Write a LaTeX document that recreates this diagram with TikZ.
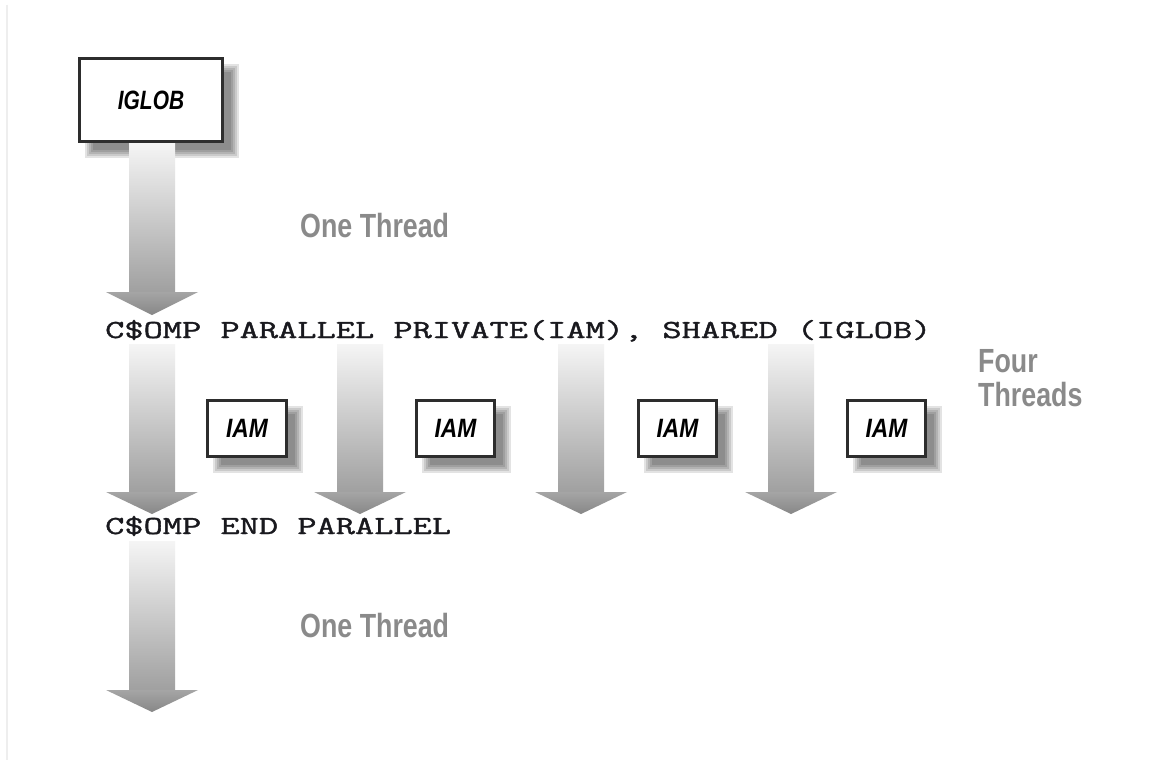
\documentclass[tikz,border=0pt]{standalone}
\usepackage{fontspec}
\newfontfamily\labfont{Liberation Sans}
\newfontfamily\codefont{Latin Modern Mono}[FakeBold=1.2]
\definecolor{labgray}{RGB}{138,138,138}
\definecolor{boxline}{RGB}{45,45,45}
\definecolor{codecol}{RGB}{25,25,30}
\definecolor{shafttop}{RGB}{245,245,245}
\definecolor{shaftbot}{RGB}{160,160,160}
\definecolor{headtop}{RGB}{165,165,165}
\definecolor{headbot}{RGB}{135,135,135}
\definecolor{edgeline}{RGB}{238,238,238}
\tikzset{
  labeltext/.style={font=\labfont\bfseries\fontsize{33.5}{36}\selectfont, text=labgray, inner sep=0pt, anchor=base west},
  codetext/.style={font=\codefont\fontsize{26}{28}\selectfont, text=codecol, inner sep=0pt, anchor=base west},
  varbox/.style={draw=boxline, line width=3pt, fill=white, inner sep=0pt,
    font=\labfont\bfseries\itshape\fontsize{26.5}{28}\selectfont, text=black},
}
\newcommand{\tharrow}[4]{% center x, shaft top, head top, tip
  \shade[top color=shafttop, bottom color=shaftbot] (#1-23,#2) rectangle (#1+23,#3);
  \shade[top color=headtop, bottom color=headbot] (#1-46,#3) -- (#1+46,#3) -- (#1,#4) -- cycle;
}
\newcommand{\softshadow}[4]{% x1,y1,x2,y2 of box
  \foreach \d in {-4,-2,0,2,4}{
    \fill[black,opacity=0.11] (#1+11+\d,#2+11+\d) rectangle (#3+11-\d,#4+11-\d);
  }
}
\begin{document}
\begin{tikzpicture}[x=1pt,y=-1pt]
\useasboundingbox (0,0) rectangle (1150,760);
\fill[white] (0,0) rectangle (1150,760);
\draw[edgeline, line width=2pt] (7,5) -- (7,760);

% shadows
\softshadow{78}{57}{224}{143}
\softshadow{206}{399}{288}{458}
\softshadow{415}{399}{496}{458}
\softshadow{637}{399}{718}{458}
\softshadow{846}{399}{927}{458}

% arrows
\tharrow{152}{143}{292}{315}
\tharrow{152}{344}{492}{514}
\tharrow{360}{344}{492}{514}
\tharrow{581}{344}{492}{514}
\tharrow{791}{344}{492}{514}
\tharrow{152}{541}{690}{712}

% boxes
\node[varbox, minimum width=143pt, minimum height=83pt] (iglob) at (151,100) {\scalebox{0.79}[1]{IGLOB}};
\node[varbox, minimum width=79pt, minimum height=56pt] (iam1) at (247,428.5) {\scalebox{0.86}[1]{IAM}};
\node[varbox, minimum width=78pt, minimum height=56pt] (iam2) at (455.5,428.5) {\scalebox{0.86}[1]{IAM}};
\node[varbox, minimum width=78pt, minimum height=56pt] (iam3) at (677.5,428.5) {\scalebox{0.86}[1]{IAM}};
\node[varbox, minimum width=78pt, minimum height=56pt] (iam4) at (886.5,428.5) {\scalebox{0.86}[1]{IAM}};

% code lines
\node[codetext] (par) at (105,338) {\scalebox{1.435}[1]{C\$OMP PARALLEL PRIVATE(IAM), SHARED (IGLOB)}};
\node[codetext] (endpar) at (105,534) {\scalebox{1.435}[1]{C\$OMP END PARALLEL}};

% labels
\node[labeltext] (one1) at (300,237) {\scalebox{0.8}[1]{One Thread}};
\node[labeltext] (one2) at (300,637) {\scalebox{0.8}[1]{One Thread}};
\node[labeltext] (four) at (978,372) {\scalebox{0.8}[1]{Four}};
\node[labeltext] (threads) at (978,406) {\scalebox{0.8}[1]{Threads}};
\end{tikzpicture}
\end{document}
